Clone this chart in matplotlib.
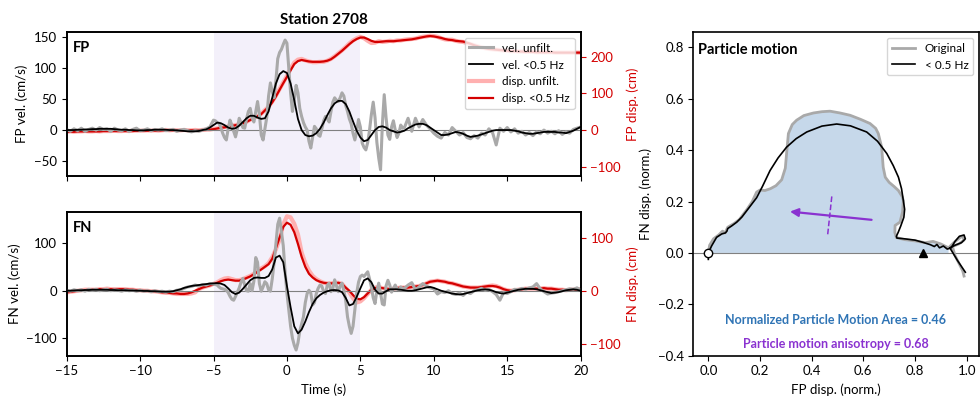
import numpy as np
import matplotlib
matplotlib.use("Agg")
import matplotlib.pyplot as plt

plt.rcParams["font.family"] = ["Lato", "DejaVu Sans"]
plt.rcParams["font.size"] = 9.5
plt.rcParams["axes.linewidth"] = 1.2

# ----------------------------------
# DATA
# ----------------------------------
# filtered traces on a 0.25 s grid, unfiltered velocities on a finer grid
t_filt = np.arange(-15, 20.001, 0.25)
t_raw = np.concatenate([np.arange(-15, -5, 0.25),
                        np.arange(-5, 8, 0.125),
                        np.arange(8, 20.001, 0.25)])

fp_vel_raw = [
    1, -2, 2, -1,  3, -2, 1, 3,  0, 4, 1, 2,  -2, 3, 0, -1,  2, -2, 1, 3,
    -1, 0, 2, -1,  1, 0, 2, -1,  0, 1, -2, 0,  1, -1, -3, -1,  -2, 0, 2, 5,
    # -5 .. 8 s (0.125 s)
    16, 15, 12, 11, 4, -5, -12, -16,
    2, 16, 8, -2, -11, 2, 19, 12,
    4, 3, 18, 30, 35, 20, 13, 30,
    46, 25, -8, -16, 2, 20, 55, 76,
    62, 52, 80, 115, 125, 130, 138, 145,
    140, 100, 60, 30, 48, 72, 60, 35,
    22, 12, 5, 0, -18, -29, -12, 6,
    2, -8, -10, 2, 15, 22, 18, 13,
    30, 45, 52, 48, 46, 52, 60, 55,
    40, 30, 18, 10, -5, -16, -2, 17,
    5, -21, -28, -32, -20, 0, 25, 45,
    20, -20, -45, -64, 10, 57, 20, -8,
    -15, 5, 15, 0, -12, -5, 8, 3,
    # 8 .. 20 s
    4, 19, -2, 19,  5, 17, 8, 2,  -5, -10, -13, -4,  -8, 4, -2, -8,
    -4, -12, -14, -9,  -13, -5, -8, 2,  -4, -24, 3, -2,  4, -3, 2, -5,
    -2, -8, -4, -9,  -3, -6, 0, -5,  -2, -6, -1, -7,  -3, -5, 1, 3,  5,
]

fp_vel_filt = [
    0, 0, 0, 0.5,  0.5, 1, 1, 1.5,  1.5, 2, 2, 2,  2, 1.5, 1, 0.5,
    0.5, 0, 0, -0.5,  -0.5, -0.5, 0, 0,  0.5, 0.5, 0.5, 0.5,  0, 0, -0.5, -1,
    -1.5, -2, -2, -2,  -1.5, 0, 1, 4,  8, 12, 11, 8,  4, 2, 3, 7,
    13, 19, 23, 23,  20, 18, 19, 30,  52, 75, 90, 95,  92, 75, 48, 18,
    0, -8, -10, -9,  -5, 2, 12, 24,  35, 43, 47, 47,  42, 30, 14, -1,
    -12, -18, -16, -8,  0, 5, 6, 4,  0, -2, -4, -3,  -1, 3, 6, 9,
    10, 10, 8, 4,  0, -4, -8, -8,  -7, -5, -3, -4,  -6, -9, -11, -10,
    -9, -7, -5, -3,  -1, 0, 0, 0,  0, 0, -1, -2,  -4, -5, -6, -6,
    -5, -4, -3, -3,  -3, -3, -4, -4,  -5, -3, -1, 2,  5,
]

fp_disp_raw = [
    -4, -3, -4, -3,  -3, -2, -3, -3,  -2, -3, -2, -2,  -2, -1, -2, -2,
    -1, -2, -1, -1,  -1, -1, 0, -1,  0, -1, 0, 1,  0, 1, 0, 0,
    1, 0, 0, 1,  0, 1, 2, 2,  4, 5, 7, 9,  10, 13, 14, 17,
    20, 23, 29, 34,  38, 45, 55, 64,  78, 94, 112, 130,  148, 168, 184, 192,
    194, 190, 187, 185,  185, 186, 186, 189,  194, 201, 209, 217,  226, 236, 244, 250,
    254, 250, 243, 237,  238, 242, 240, 241,  243, 242, 244, 244,  246, 247, 248, 249,
    252, 254, 255, 257,  256, 254, 250, 247,  246, 246, 243, 241,  240, 237, 234, 231,
    228, 225, 223, 221,  220, 219, 218, 217,  216, 215, 215, 214,  214, 213, 213, 213,
    212, 212, 212, 212,  212, 211, 211, 211,  211, 211, 211, 211,  211,
]

fp_disp_filt = [
    -4, -4, -4, -3,  -3, -3, -3, -3,  -3, -3, -2, -2,  -2, -2, -2, -2,
    -2, -2, -2, -1,  -1, -1, -1, -1,  -1, -1, 0, 0,  0, 0, 0, 0,
    0, 0, 0, 0,  0, 1, 1, 2,  3, 5, 7, 8,  10, 12, 14, 16,
    19, 23, 28, 33,  38, 44, 54, 63,  76, 92, 110, 128,  145, 163, 180, 188,
    191, 189, 187, 186,  186, 186, 187, 189,  193, 200, 208, 216,  225, 234, 242, 248,
    252, 252, 248, 243,  240, 240, 241, 242,  242, 242, 243, 244,  245, 246, 247, 249,
    251, 253, 255, 256,  255, 253, 251, 248,  246, 245, 243, 242,  241, 238, 235, 231,
    228, 225, 223, 221,  220, 219, 218, 217,  216, 215, 215, 214,  214, 213, 213, 213,
    212, 212, 212, 212,  212, 211, 211, 211,  211, 211, 211, 211,  211,
]

fn_vel_raw = [
    1, -1, 2, 0,  2, -1, 3, 1,  3, 0, 2, 3,  0, 2, 1, -1,  2, 0, 1, -1,
    1, -1, 0, -2,  0, -2, -1, -3,  -1, -2, 1, 2,  5, 8, 9, 12,  10, 13, 12, 15,
    # -5 .. 8 s (0.125 s)
    14, 13, 12, 8, 5, 4, 3, 1,
    -4, -12, -18, -20, -12, -3, 6, 18,
    26, 12, 0, -1, 15, 0, 20, 70,
    60, 15, -1, 8, 19, 15, 2, -1,
    25, 58, 100, 140, 153, 125, 95, 40,
    -5, -41, -75, -100, -115, -125, -110, -85,
    -70, -55, -25, -6, 1, -5, -30, -25,
    -6, 5, 12, 10, -2, -6, 12, 16,
    -2, 5, 23, 10, -2, 10, 16, 0,
    -20, -55, -75, -90, -75, -41, -5, 18,
    30, 33, 30, 35, 40, 25, 8, -15,
    -27, 0, 16, -5, -28, -30, 10, 22,
    12, -3, 5, 12, 4, 2, 8, 5,
    # 8 .. 20 s
    5, 12, 17, 2,  8, 15, 10, 6,  4, -7, -2, -4,  0, -6, -8, -5,
    -10, -3, -6, 0,  2, 5, 1, 3,  -2, -8, -20, -4,  -6, -2, 3, 2,
    5, 3, 6, 8,  15, 4, -2, -7,  -5, -4, -2, 0,  2, 4, 3, 6,  2,
]

fn_vel_filt = [
    0, 0, 0.5, 1,  1, 1.5, 1.5, 2,  2, 2, 2, 2,  1.5, 1.5, 1, 1,
    1, 0.5, 0.5, 0,  0, -0.5, -0.5, -1,  -1, -1.5, -2, -2,  -2, -1, 1, 3,
    6, 8, 10, 11,  12, 13, 14, 15,  15.5, 16, 15, 12,  5, -3, -7, -4,
    4, 13, 22, 27,  28, 27, 27, 31,  45, 70, 74, 60,  10, -35, -75, -90,
    -82, -65, -45, -28,  -16, -9, -4, -1,  1, 1.5, 0.5, -3,  -15, -31, -28, -13,
    5, 22, 26, 18,  2, -6, -6, -1,  3, 3, 3, 2,  1, 0, 0, 1,
    3, 5, 7, 8,  6, 3, 0, -2,  -4, -6, -7, -8,  -7, -5, -3, -1,
    1, 2, 3, 2,  0, -3, -5, -6,  -4, -2, 0, 2,  3, 4, 4, 4,
    3, 1, -1, -3,  -5, -4, -3, -1,  1, 2, 3, 2,  0,
]

fn_disp_raw = [
    -3, -2, -1, 0,  1, 2, 2, 2,  2, 3, 3, 4,  3, 3, 3, 3,
    3, 2, 2, 1,  1, 0, 0, -1,  -1, -2, -3, -4,  -4, -5, -6, -6,
    -6, -6, -5, -3,  3, 6, 8, 10,  13, 16, 20, 23,  24, 22, 20, 20,
    22, 25, 28, 32,  37, 42, 46, 52,  63, 78, 96, 125,  140, 138, 126, 106,
    72, 52, 38, 28,  22, 18, 15, 14,  14, 15, 15, 13,  5, -3, -14, -22,
    -20, -14, -6, 2,  6, 7, 5, 4,  3, 4, 5, 6,  6, 6, 7, 8,
    9, 11, 14, 17,  18, 19, 18, 17,  15, 14, 12, 10,  8, 7, 6, 6,
    6, 7, 8, 9,  10, 9, 6, 3,  1, 0, 1, 2,  3, 4, 4, 4,
    4, 4, 5, 4,  4, 3, 2, 2,  1, 2, 2, 3,  3,
]

fn_disp_filt = [
    -3, -2, -1, 0,  1, 1, 2, 2,  2, 3, 3, 3,  3, 3, 3, 3,
    3, 2, 2, 1,  1, 0, 0, -1,  -1, -2, -3, -3,  -4, -5, -5, -6,
    -6, -5, -3, 0,  3, 6, 8, 10,  12, 15, 18, 20,  21, 20, 19, 19,
    21, 24, 27, 31,  36, 40, 45, 50,  60, 80, 100, 120,  128, 124, 110, 88,
    64, 45, 32, 25,  20, 17, 15, 14,  14, 14, 15, 13,  6, 0, -8, -15,
    -16, -12, -5, 2,  5, 6, 5, 4,  3, 4, 5, 6,  6, 6, 7, 8,
    9, 11, 14, 17,  18, 19, 18, 17,  15, 14, 12, 10,  8, 7, 6, 6,
    6, 7, 8, 9,  9, 8, 6, 3,  1, 0, 1, 2,  3, 4, 4, 4,
    4, 4, 5, 4,  4, 3, 2, 2,  1, 2, 2, 3,  3,
]

# particle motion (normalised displacement)
pm_fp_orig = [0.0, 0.0, 0.005, 0.02, 0.04, 0.055, 0.065, 0.075, 0.1, 0.12,
              0.15, 0.17, 0.187, 0.2, 0.219, 0.24, 0.262, 0.284, 0.298, 0.305,
              0.31, 0.325, 0.342, 0.37, 0.407, 0.44, 0.471, 0.51, 0.549, 0.59,
              0.626, 0.648, 0.658, 0.671, 0.677, 0.685, 0.70, 0.72, 0.736, 0.75,
              0.755, 0.752, 0.742, 0.723, 0.722, 0.728, 0.76, 0.80, 0.84, 0.87,
              0.90, 0.93, 0.95, 0.975, 0.985, 0.99, 0.97, 0.945, 0.955, 0.97,
              0.985, 0.99]
pm_fn_orig = [-0.01, 0.0, 0.03, 0.055, 0.07, 0.085, 0.078, 0.1, 0.115, 0.13,
              0.17, 0.2, 0.237, 0.245, 0.243, 0.25, 0.262, 0.285, 0.33, 0.41,
              0.465, 0.5, 0.517, 0.535, 0.545, 0.55, 0.552, 0.545, 0.536, 0.52,
              0.504, 0.485, 0.465, 0.412, 0.334, 0.295, 0.275, 0.258, 0.243, 0.22,
              0.204, 0.16, 0.12, 0.107, 0.08, 0.06, 0.052, 0.047, 0.04, 0.045,
              0.035, 0.02, 0.04, 0.06, 0.065, 0.05, 0.035, 0.025, -0.01, -0.04,
              -0.07, -0.09]
pm_fp_filt = [0.0, 0.0, 0.013, 0.032, 0.052, 0.066, 0.072, 0.075, 0.09, 0.11,
              0.13, 0.149, 0.168, 0.187, 0.21, 0.239, 0.27, 0.303, 0.34, 0.381,
              0.44, 0.497, 0.55, 0.613, 0.655, 0.691, 0.716, 0.736, 0.748, 0.755,
              0.76, 0.757, 0.745, 0.735, 0.728, 0.73, 0.76, 0.80, 0.832, 0.86,
              0.875, 0.885, 0.895, 0.91, 0.925, 0.94, 0.955, 0.972, 0.99, 0.995,
              0.98, 0.955, 0.935, 0.95, 0.965, 0.985, 0.995]
pm_fn_filt = [-0.025, 0.0, 0.028, 0.061, 0.074, 0.078, 0.085, 0.095, 0.105, 0.12,
              0.14, 0.165, 0.19, 0.215, 0.26, 0.321, 0.37, 0.412, 0.445, 0.471,
              0.494, 0.502, 0.495, 0.471, 0.435, 0.387, 0.34, 0.295, 0.25, 0.204,
              0.17, 0.139, 0.105, 0.08, 0.065, 0.058, 0.055, 0.05, 0.041, 0.032,
              0.025, 0.033, 0.02, 0.027, 0.015, 0.02, 0.045, 0.065, 0.07, 0.055,
              0.04, 0.03, 0.02, -0.005, -0.03, -0.06, -0.075]
n_fill = 52          # original path points that enclose the shaded area
pulse_end = 0.83     # triangle marker on the FP axis

arrow_start = (0.632, 0.129)
arrow_end = (0.316, 0.161)
perp_line = ([0.478, 0.462], [0.22, 0.071])

pm_area = 0.46
pm_aniso = 0.68

# ----------------------------------
# STYLE
# ----------------------------------
C_RAW = "#a9a9a9"
C_RED = "#d40000"
C_PINK = "#ffb0b0"
C_SPAN = "#f3f0fa"
C_FILL = "#c6d8ea"
C_BLUE = "#2f74b5"
C_PURP = "#8a32d0"

fig = plt.figure(figsize=(9.8, 3.96), dpi=100)
ax_fp = fig.add_axes([0.068, 0.5556, 0.5245, 0.3636])
ax_fn = fig.add_axes([0.068, 0.1018, 0.5245, 0.3628])
ax_pm = fig.add_axes([0.7075, 0.1018, 0.2915, 0.8172])


def draw_trace(ax, vel_raw, vel_filt, disp_raw, disp_filt, comp, vlim, dlim, legend):
    # displacement on the twin axis, drawn underneath the velocity traces
    ax2 = ax.twinx()
    ax2.axvspan(-5, 5, color=C_SPAN, zorder=0, lw=0)
    l3, = ax2.plot(t_filt, disp_raw, color=C_PINK, lw=3, label="disp. unfilt.")
    l4, = ax2.plot(t_filt, disp_filt, color=C_RED, lw=1.6, label="disp. <0.5 Hz")
    ax2.set_ylim(*dlim)
    ax2.set_ylabel(f"{comp} disp. (cm)", color=C_RED)
    ax2.tick_params(axis="y", colors=C_RED)
    ax2.spines["right"].set_color("black")

    ax.set_zorder(ax2.get_zorder() + 1)
    ax.patch.set_visible(False)
    ax.axhline(0, color="gray", lw=0.8, zorder=1)
    l1, = ax.plot(t_raw, vel_raw, color=C_RAW, lw=2.2, label="vel. unfilt.")
    l2, = ax.plot(t_filt, vel_filt, color="black", lw=1.3, label="vel. <0.5 Hz")
    ax.set_xlim(-15, 20)
    ax.set_ylim(*vlim)
    ax.set_ylabel(f"{comp} vel. (cm/s)")
    ax.text(0.012, 0.94, comp, transform=ax.transAxes, fontweight="bold",
            fontsize=10.5, va="top")
    if legend:
        ax.legend(handles=[l1, l2, l3, l4], loc="upper right", fontsize=8.5,
                  framealpha=0.8, borderpad=0.4, handlelength=2.0)
    return ax2


draw_trace(ax_fp, fp_vel_raw, fp_vel_filt, fp_disp_raw, fp_disp_filt,
           "FP", (-74, 158), (-124, 267), True)
draw_trace(ax_fn, fn_vel_raw, fn_vel_filt, fn_disp_raw, fn_disp_filt,
           "FN", (-137, 166), (-122, 148), False)

ax_fp.set_xticks(range(-15, 21, 5))
ax_fp.set_xticklabels([])
ax_fp.set_yticks([-50, 0, 50, 100, 150])
ax_fn.set_xticks(range(-15, 21, 5))
ax_fn.set_yticks([-100, 0, 100])
ax_fn.set_xlabel("Time (s)")
ax_fp.set_title("Station 2708", fontweight="bold", fontsize=11, pad=6)

# ----------------------------------
# PARTICLE MOTION
# ----------------------------------
ax_pm.fill(pm_fp_orig[1:n_fill] + [pm_fp_orig[n_fill - 1]],
           pm_fn_orig[1:n_fill] + [0.0], color=C_FILL, lw=0, zorder=1)
ax_pm.axhline(0, color="gray", lw=0.8, zorder=2)
ax_pm.plot(pm_fp_orig, pm_fn_orig, color=C_RAW, lw=2, label="Original", zorder=3)
ax_pm.plot(pm_fp_filt, pm_fn_filt, color="black", lw=1.2, label="< 0.5 Hz", zorder=4)
ax_pm.plot(0, 0, "o", mfc="white", mec="black", ms=6, zorder=5)
ax_pm.plot(pulse_end, 0, "^", color="black", ms=5.5, zorder=5)

ax_pm.annotate("", xy=arrow_end, xytext=arrow_start, zorder=6,
               arrowprops=dict(arrowstyle="-|>", color=C_PURP, lw=1.6,
                               mutation_scale=12, shrinkA=0, shrinkB=0))
ax_pm.plot(perp_line[0], perp_line[1], color=C_PURP, lw=1.1, ls="--", zorder=6)

ax_pm.text(0.494, -0.262, f"Normalized Particle Motion Area = {pm_area:.2f}",
           color=C_BLUE, fontweight="bold", ha="center", va="center", fontsize=9)
ax_pm.text(0.494, -0.353, f"Particle motion anisotropy = {pm_aniso:.2f}",
           color=C_PURP, fontweight="bold", ha="center", va="center", fontsize=9)
ax_pm.text(0.015, 0.965, "Particle motion", transform=ax_pm.transAxes,
           fontweight="bold", fontsize=10.5, va="top")

ax_pm.set_xlim(-0.058, 1.048)
ax_pm.set_ylim(-0.4, 0.86)
ax_pm.set_xticks([0.0, 0.2, 0.4, 0.6, 0.8, 1.0])
ax_pm.set_yticks([-0.4, -0.2, 0.0, 0.2, 0.4, 0.6, 0.8])
ax_pm.set_xlabel("FP disp. (norm.)")
ax_pm.set_ylabel("FN disp. (norm.)")
ax_pm.legend(loc="upper right", fontsize=8.5, framealpha=0.8, handlelength=2.0)

fig.savefig("out.png", dpi=100)
